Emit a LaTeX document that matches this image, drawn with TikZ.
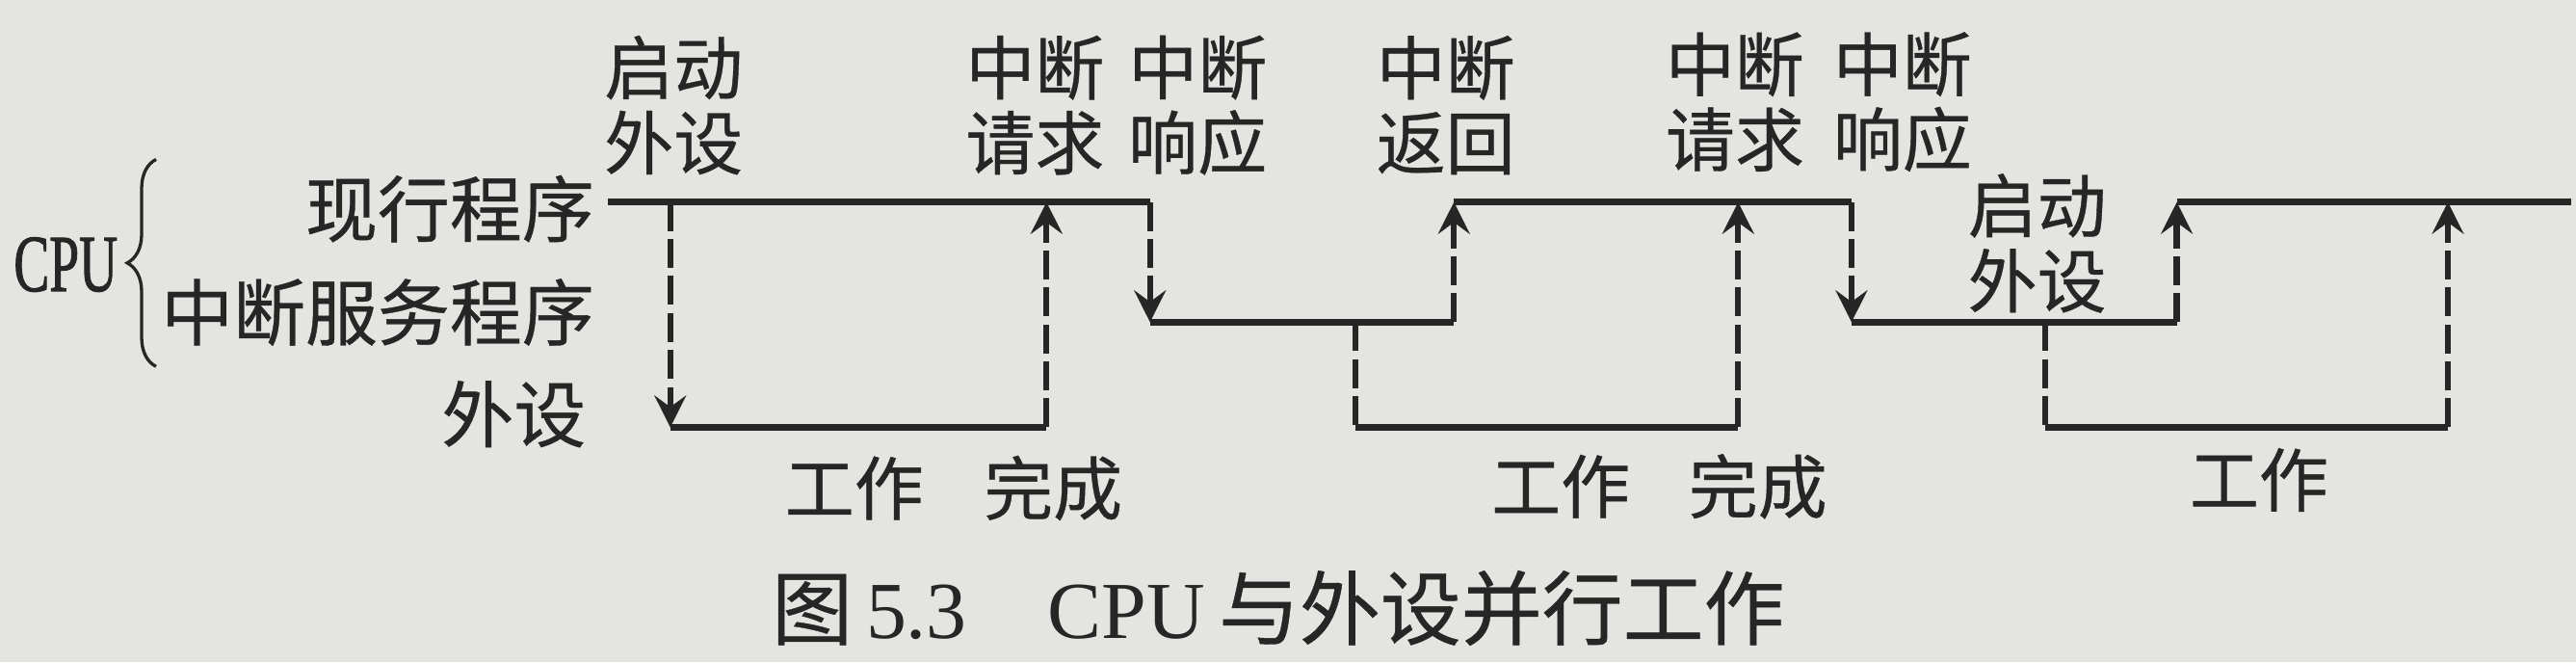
\documentclass[tikz,border=0pt]{standalone}
\usepackage{fontspec}
\setmainfont{Liberation Serif}
\newfontfamily\cjk[FakeBold=0.5]{Noto Sans CJK SC}
\newfontfamily\cpufont[FakeBold=1.5]{Liberation Serif}
\usetikzlibrary{arrows.meta, decorations.pathreplacing}
\definecolor{paper}{RGB}{228,228,225}
\definecolor{ink}{RGB}{38,38,38}

\begin{document}
\begin{tikzpicture}[x=0.2mm, y=-0.2mm, >={Stealth[length=11pt, width=11pt, inset=4pt]}, ink]
        \tikzstyle{lbl} = [inner sep=0pt, align=center, font=\cjk\fontsize{24}{26}\selectfont]
        \tikzstyle{side} = [lbl, anchor=east, font=\cjk\fontsize{25}{28}\selectfont]
        \tikzstyle{run} = [line width=2.3pt]
        \tikzstyle{jump} = [line width=2.1pt, dash pattern=on 10pt off 2.8pt, ->]
        % paper
        \fill[paper] (0,0) rectangle (1568,403);
        %Labels on the left
        \node [font=\cpufont\fontsize{28}{30}\selectfont, inner sep=0pt] (cpu) at (40,161) {\scalebox{0.66}[1]{CPU}};
        \node [side] (cur) at (362,127) {现行程序};
        \node [side] (isr) at (362,190) {中断服务程序};
        \node [side] (periph) at (357,252) {外设};
        \coordinate (braceb) at (95,223);
        \coordinate (bracet) at (95,97);
        %Event labels
        \node [lbl] (start1) at (410,64) {启动\\外设};
        \node [lbl] (req1) at (630,64) {中断\\请求};
        \node [lbl] (resp1) at (729,64) {中断\\响应};
        \node [lbl] (iret1) at (880,64) {中断\\返回};
        \node [lbl] (req2) at (1056,62) {中断\\请求};
        \node [lbl] (resp2) at (1158,62) {中断\\响应};
        \node [lbl] (start2) at (1240,148) {启动\\外设};
        \node [lbl] (work1) at (520,297) {工作};
        \node [lbl] (done1) at (641,297) {完成};
        \node [lbl] (work2) at (950,296) {工作};
        \node [lbl] (done2) at (1070,296) {完成};
        \node [lbl] (work3) at (1375,292) {工作};
        \node [inner sep=0pt, font=\fontsize{28}{30}\selectfont] (caption) at (778,370)
            {{\cjk 图}\,5.3\quad CPU\,{\cjk 与外设并行工作}};
        %Time points
        \coordinate (run0) at (370,123);
        \coordinate (go1) at (408,123);
        \coordinate (dev1) at (408,260);
        \coordinate (fin1) at (637,260);
        \coordinate (irq1) at (637,123);
        \coordinate (ack1) at (700,123);
        \coordinate (isr1) at (700,196);
        \coordinate (go2) at (825,196);
        \coordinate (dev2) at (825,260);
        \coordinate (ret1) at (885,196);
        \coordinate (back1) at (885,123);
        \coordinate (fin2) at (1058,260);
        \coordinate (irq2) at (1058,123);
        \coordinate (ack2) at (1127,123);
        \coordinate (isr2) at (1127,196);
        \coordinate (go3) at (1245,196);
        \coordinate (dev3) at (1245,260);
        \coordinate (ret2) at (1325,196);
        \coordinate (back2) at (1325,123);
        \coordinate (fin3) at (1490,260);
        \coordinate (irq3) at (1490,123);
        \coordinate (run9) at (1565,123);
        %Connecting
        \draw [line width=1.1pt, decorate, decoration={brace, amplitude=10pt}] (braceb) -- (bracet);
        \begin{scope}[run]
            \draw (run0) -- (ack1);
            \draw (isr1) -- (ret1);
            \draw (back1) -- (ack2);
            \draw (isr2) -- (ret2);
            \draw (back2) -- (run9);
            \draw (dev1) -- (fin1);
            \draw (dev2) -- (fin2);
            \draw (dev3) -- (fin3);
        \end{scope}
        \begin{scope}[jump]
            \draw (go1) -- (dev1);
            \draw (fin1) -- (irq1);
            \draw (ack1) -- (isr1);
            \draw (ret1) -- (back1);
            \draw [-] (go2) -- (dev2);
            \draw (fin2) -- (irq2);
            \draw (ack2) -- (isr2);
            \draw [-] (go3) -- (dev3);
            \draw (ret2) -- (back2);
            \draw (fin3) -- (irq3);
        \end{scope}
\end{tikzpicture}
\end{document}
